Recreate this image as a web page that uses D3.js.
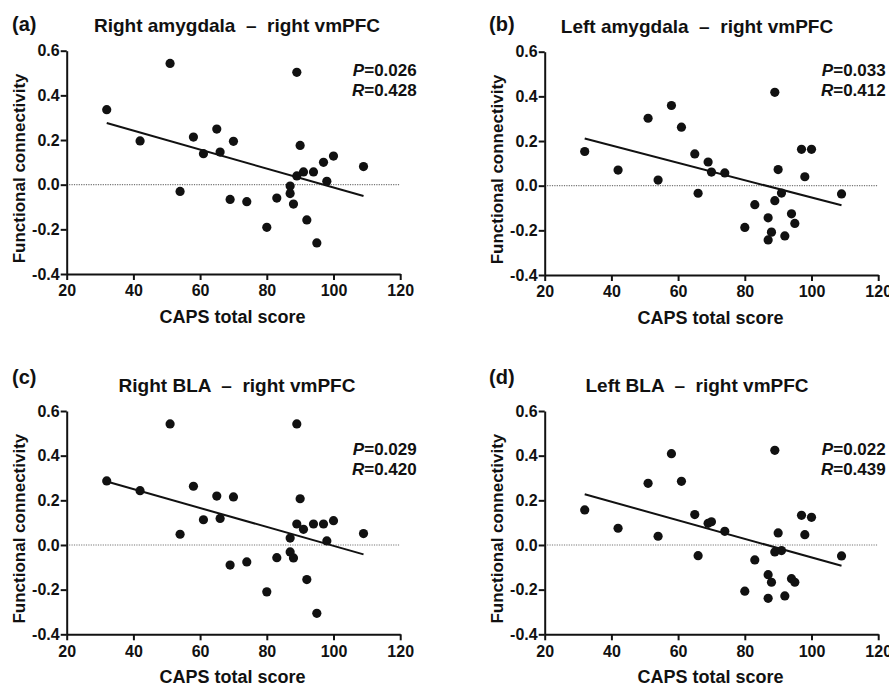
<!DOCTYPE html>
<html>
<head>
<meta charset="utf-8">
<script src="https://cdn.jsdelivr.net/npm/d3@7"></script>
<style>
  body { margin: 0; background: #fff; }
  text { font-family: "Liberation Sans", Arial, sans-serif; font-weight: bold; fill: #111; }
</style>
</head>
<body>
<script>
// CAPS total score (same subjects in every panel)
const capsScore = [32, 42, 51, 54, 58, 61, 65, 66, 69, 70, 74, 80, 83, 87, 87, 88, 89, 89, 90, 91, 92, 94, 95, 97, 98, 100, 109]

// functional connectivity with right vmPFC
const rightAmygdala = [0.336, 0.196, 0.543, -0.030, 0.213, 0.139, 0.249, 0.146, -0.066, 0.194, -0.076, -0.191, -0.060, -0.006, -0.040, -0.087, 0.503, 0.039, 0.176, 0.057, -0.158, 0.057, -0.261, 0.100, 0.015, 0.128, 0.081]
const leftAmygdala = [0.153, 0.070, 0.302, 0.025, 0.359, 0.262, 0.142, -0.034, 0.106, 0.061, 0.057, -0.187, -0.085, -0.144, -0.243, -0.208, 0.418, -0.067, 0.072, -0.033, -0.225, -0.126, -0.169, 0.163, 0.040, 0.163, -0.037]
const rightBLA = [0.287, 0.243, 0.542, 0.048, 0.263, 0.113, 0.219, 0.119, -0.090, 0.215, -0.076, -0.210, -0.057, 0.031, -0.031, -0.058, 0.542, 0.094, 0.207, 0.070, -0.155, 0.094, -0.306, 0.094, 0.018, 0.109, 0.051]
const leftBLA = [0.157, 0.075, 0.276, 0.039, 0.409, 0.285, 0.136, -0.048, 0.097, 0.104, 0.061, -0.207, -0.067, -0.133, -0.239, -0.167, 0.424, -0.031, 0.054, -0.025, -0.228, -0.151, -0.167, 0.133, 0.046, 0.124, -0.049]

// fitted line: value at x = 32 and x = 109
const fitRightAmygdala = [0.276, -0.051]
const fitLeftAmygdala = [0.211, -0.088]
const fitRightBLA = [0.284, -0.042]
const fitLeftBLA = [0.227, -0.093]
const fitRange = [32, 109]

const panelLetters = ['(a)', '(b)', '(c)', '(d)']
const panelTitles = ['Right amygdala  \u2013  right vmPFC', 'Left amygdala  \u2013  right vmPFC', 'Right BLA  \u2013  right vmPFC', 'Left BLA  \u2013  right vmPFC']
const pValues = ['0.026', '0.033', '0.029', '0.022']
const rValues = ['0.428', '0.412', '0.420', '0.439']

const xTicks = [20, 40, 60, 80, 100, 120]
const yTicks = [-0.4, -0.2, 0, 0.2, 0.4, 0.6]

const series = [rightAmygdala, leftAmygdala, rightBLA, leftBLA]
const fits = [fitRightAmygdala, fitLeftAmygdala, fitRightBLA, fitLeftBLA]

// layout for each panel
const layout = [
    { left: 66.7, top: 50.7, titleX: 237, letterX: 12, letterY: 31, statsX: 350, statsY: 25 },
    { left: 544.7, top: 51.7, titleX: 697, letterX: 489, letterY: 31, statsX: 341, statsY: 24 },
    { left: 66.7, top: 411, titleX: 237, letterX: 12, letterY: 384, statsX: 350, statsY: 44 },
    { left: 544.7, top: 411, titleX: 697, letterX: 489, letterY: 384, statsX: 341, statsY: 44 }
]
const width = 333.5
const height = 223.3

const svg = d3.select('body').append('svg')
    .attr('width', 889)
    .attr('height', 685)

layout.forEach((p, i) => {
    const g = svg.append('g')
        .attr('transform', `translate(${p.left}, ${p.top})`)

    const xScale = d3.scaleLinear().domain([20, 120]).range([0, width])
    const yScale = d3.scaleLinear().domain([-0.4, 0.6]).range([height, 0])

    // zero reference line
    g.append('line')
        .attr('x1', xScale(20)).attr('x2', xScale(120))
        .attr('y1', yScale(0)).attr('y2', yScale(0))
        .style('stroke', '#777')
        .style('stroke-width', 1.2)
        .style('stroke-dasharray', '1.2,1.2')

    const xAxis = g.append('g')
        .attr('transform', `translate(0, ${height})`)
        .call(d3.axisBottom(xScale).tickValues(xTicks).tickSize(6).tickSizeOuter(0).tickPadding(5).tickFormat(d3.format('d')))
    const yAxis = g.append('g')
        .call(d3.axisLeft(yScale).tickValues(yTicks).tickSize(6).tickSizeOuter(0).tickPadding(1).tickFormat(d => d.toFixed(1)))

    ;[xAxis, yAxis].forEach(a => {
        a.selectAll('path, line').style('stroke', '#111').style('stroke-width', 2)
        a.selectAll('text')
            .style('font-family', '"Liberation Sans", Arial, sans-serif')
            .style('font-weight', 'bold')
            .style('font-size', '16px')
            .style('fill', '#111')
    })

    // regression line
    g.append('line')
        .attr('x1', xScale(fitRange[0])).attr('y1', yScale(fits[i][0]))
        .attr('x2', xScale(fitRange[1])).attr('y2', yScale(fits[i][1]))
        .style('stroke', '#111')
        .style('stroke-width', 2)

    g.selectAll('.dot')
        .data(capsScore.map((c, j) => ({ x: c, y: series[i][j] })))
        .enter().append('circle')
        .attr('class', 'dot')
        .attr('cx', d => xScale(d.x))
        .attr('cy', d => yScale(d.y))
        .attr('r', 4.6)
        .style('fill', '#111')

    // labels
    g.append('text')
        .attr('x', width / 2 - 1)
        .attr('y', height + 49)
        .style('text-anchor', 'middle')
        .style('font-size', '18px')
        .text('CAPS total score')

    g.append('text')
        .attr('transform', 'rotate(-90)')
        .attr('x', -height / 2 - 6)
        .attr('y', -42)
        .style('text-anchor', 'middle')
        .style('font-size', '17px')
        .text('Functional connectivity')

    const stats = g.append('text')
        .attr('x', p.statsX)
        .attr('y', p.statsY)
        .style('text-anchor', 'end')
        .style('font-size', '17px')
    stats.append('tspan').style('font-style', 'italic').text('P')
    stats.append('tspan').text('=' + pValues[i])

    const stats2 = g.append('text')
        .attr('x', p.statsX)
        .attr('y', p.statsY + 20)
        .style('text-anchor', 'end')
        .style('font-size', '17px')
    stats2.append('tspan').style('font-style', 'italic').text('R')
    stats2.append('tspan').text('=' + rValues[i])

    svg.append('text')
        .attr('x', p.titleX)
        .attr('y', p.top - 19)
        .style('text-anchor', 'middle')
        .style('font-size', '19px')
        .style('white-space', 'pre')
        .text(panelTitles[i])

    svg.append('text')
        .attr('x', p.letterX)
        .attr('y', p.letterY)
        .style('font-size', '20px')
        .text(panelLetters[i])
})
</script>
</body>
</html>
